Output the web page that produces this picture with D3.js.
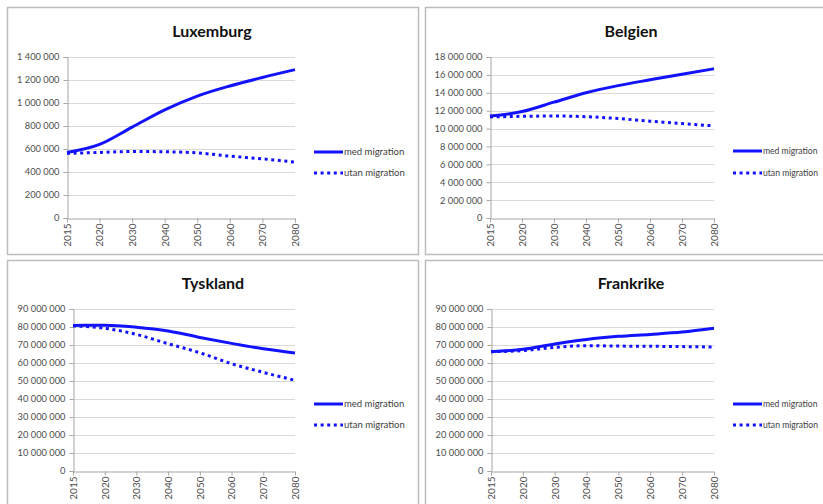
<!DOCTYPE html>
<html>
<head>
<meta charset="utf-8">
<script src="https://cdn.jsdelivr.net/npm/d3@7"></script>
<style>
  html, body { margin: 0; padding: 0; background: #fff; }
  svg { display: block; }
</style>
</head>
<body>
<svg id="chart" width="823" height="504"></svg>
<script>
// Years shown on every panel's category axis
const years = ["2015", "2020", "2030", "2040", "2050", "2060", "2070", "2080"];
const seriesNames = ["med migration", "utan migration"];

// Population projections per country
const luxMed  = [570000, 640000, 790000, 940000, 1060000, 1148000, 1222000, 1290000];
const luxUtan = [562000, 570000, 578000, 576000, 566000, 538000, 514000, 486000];
const luxTicks = [0, 200000, 400000, 600000, 800000, 1000000, 1200000, 1400000];

const belMed  = [11400000, 11900000, 12950000, 14000000, 14800000, 15450000, 16080000, 16680000];
const belUtan = [11300000, 11370000, 11400000, 11330000, 11120000, 10820000, 10560000, 10300000];
const belTicks = [0, 2000000, 4000000, 6000000, 8000000, 10000000, 12000000, 14000000, 16000000, 18000000];

const tysMed  = [80900000, 81000000, 79900000, 77800000, 74200000, 70900000, 67900000, 65600000];
const tysUtan = [80600000, 79300000, 75900000, 70700000, 65700000, 59600000, 54800000, 50400000];
const tysTicks = [0, 10000000, 20000000, 30000000, 40000000, 50000000, 60000000, 70000000, 80000000, 90000000];

const fraMed  = [66300000, 67600000, 70600000, 73100000, 74800000, 75900000, 77200000, 79300000];
const fraUtan = [66300000, 66900000, 68700000, 69600000, 69400000, 69300000, 69100000, 68900000];
const fraTicks = tysTicks;

const fmt = d3.formatLocale({ decimal: ",", thousands: " ", grouping: [3], currency: ["", ""] }).format(",d");

const BLUE = "#1212ff";
const FONT = "Lato, 'Open Sans', sans-serif";
const svg = d3.select("#chart");

// Panel frames and plot areas
const panels = [
  { title: "Luxemburg", med: luxMed, utan: luxUtan, ticks: luxTicks, legendSize: 9.5,
    box: [7, 7, 411, 247], plot: [67, 57, 295, 218], titleXY: [212, 37], legend: [314, 152, 173] },
  { title: "Belgien", med: belMed, utan: belUtan, ticks: belTicks, legendSize: 8.6,
    box: [425, 7, 410, 247], plot: [490, 57, 714, 218], titleXY: [631, 37], legend: [733, 151, 173] },
  { title: "Tyskland", med: tysMed, utan: tysUtan, ticks: tysTicks, legendSize: 9.5,
    box: [7, 260, 411, 260], plot: [73, 309, 295, 471], titleXY: [213, 289], legend: [314, 404, 425] },
  { title: "Frankrike", med: fraMed, utan: fraUtan, ticks: fraTicks, legendSize: 8.6,
    box: [425, 260, 410, 260], plot: [491, 309, 714, 471], titleXY: [631, 289], legend: [733, 404, 425] }
];

panels.forEach(p => {
  const g = svg.append("g");
  const [bx, by, bw, bh] = p.box;
  g.append("rect")
    .attr("x", bx + 0.5).attr("y", by + 0.5)
    .attr("width", bw).attr("height", bh)
    .attr("fill", "#fff").attr("stroke", "#bdbdbd").attr("stroke-width", 1.5);

  const [x0, y0, x1, y1] = p.plot;
  const x = d3.scalePoint().domain(years).range([x0, x1]).padding(0);
  const y = d3.scaleLinear().domain([0, d3.max(p.ticks)]).range([y1, y0]);

  // gridlines
  g.append("g").selectAll("line").data(p.ticks.slice(1)).join("line")
    .attr("x1", x0).attr("x2", x1)
    .attr("y1", d => Math.round(y(d)) + 0.5).attr("y2", d => Math.round(y(d)) + 0.5)
    .attr("stroke", "#d9d9d9").attr("stroke-width", 1);

  // y axis
  const ya = g.append("g").attr("transform", `translate(${x0 + 0.5},0)`)
    .call(d3.axisLeft(y).tickValues(p.ticks).tickFormat(fmt).tickSize(4).tickPadding(4));
  ya.select(".domain").attr("stroke", "#a6a6a6");
  ya.selectAll(".tick line").attr("stroke", "#a6a6a6");
  ya.selectAll("text").attr("fill", "#4d4d4d").style("font", `9.3px ${FONT}`);

  // x axis
  const xa = g.append("g").attr("transform", `translate(0,${y1 + 0.5})`)
    .call(d3.axisBottom(x).tickSize(4).tickSizeOuter(0));
  xa.select(".domain").attr("stroke", "#a6a6a6");
  xa.selectAll(".tick line").attr("stroke", "#a6a6a6");
  xa.selectAll("text")
    .attr("fill", "#4d4d4d").style("font", `10px ${FONT}`)
    .attr("text-anchor", "end")
    .attr("transform", "rotate(-90)")
    .attr("x", -5).attr("y", 0).attr("dy", "0.34em");

  // series lines
  const line = d3.line().x((d, i) => x(years[i])).y(d => y(d)).curve(d3.curveMonotoneX);
  g.append("path").datum(p.utan).attr("d", line)
    .attr("fill", "none").attr("stroke", BLUE).attr("stroke-width", 3)
    .attr("stroke-dasharray", "3,3.6");
  g.append("path").datum(p.med).attr("d", line)
    .attr("fill", "none").attr("stroke", BLUE).attr("stroke-width", 3)
    .attr("stroke-linejoin", "round");

  // title
  g.append("text").attr("x", p.titleXY[0]).attr("y", p.titleXY[1])
    .attr("text-anchor", "middle")
    .style("font", `bold 16px ${FONT}`).attr("fill", "#111")
    .text(p.title);

  // legend
  const [lx, ly1, ly2] = p.legend;
  [ly1, ly2].forEach((ly, i) => {
    g.append("line").attr("x1", lx).attr("x2", lx + 29).attr("y1", ly).attr("y2", ly)
      .attr("stroke", BLUE).attr("stroke-width", 3)
      .attr("stroke-dasharray", i === 0 ? null : "3,3.6");
    g.append("text").attr("x", lx + 30).attr("y", ly).attr("dy", "0.32em")
      .style("font", `${p.legendSize}px ${FONT}`).attr("fill", "#404040")
      .text(seriesNames[i]);
  });
});
</script>
</body>
</html>
